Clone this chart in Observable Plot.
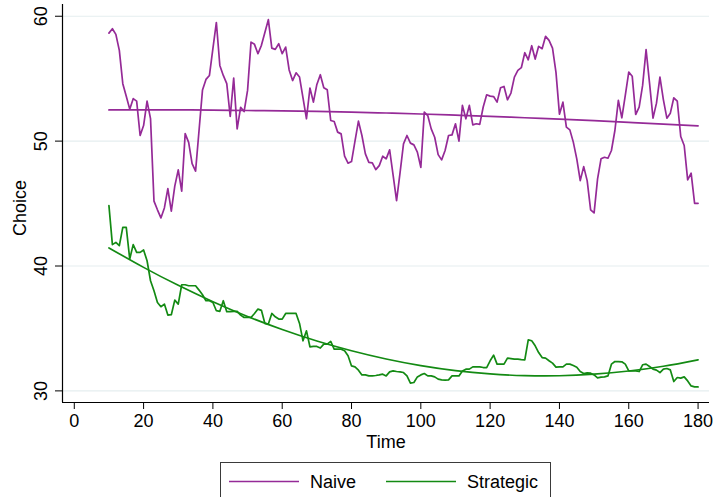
<!DOCTYPE html>
<html>
<head>
<meta charset="utf-8">
<script src="https://cdn.jsdelivr.net/npm/d3@7"></script>
<script src="https://cdn.jsdelivr.net/npm/@observablehq/plot@0.6"></script>
<style>
  html, body { margin: 0; padding: 0; background: #fff; overflow: hidden; }
  #chart { position: relative; width: 713px; height: 497px; overflow: hidden;
           font-family: "Liberation Sans", Arial, Helvetica, sans-serif; }
  #chart > svg { position: absolute; left: 0; top: 0; }
  #legend { position: absolute; left: 220px; top: 462px; width: 331px; height: 44px;
            box-sizing: border-box; border: 1px solid #3a3a3a; background: #fff; }
  #legend svg { position: absolute; left: 0; top: 0; }
</style>
</head>
<body>
<div id="chart"></div>
<script>
// Choice by period, periods 10..180
const time = d3.range(10, 181);

const naive = [
  58.65, 59.0, 58.55, 57.27, 54.6, 53.6, 52.56, 53.4, 53.2, 50.45,
  51.25, 53.2, 51.8, 45.2, 44.5, 43.85, 44.65, 46.2, 44.4, 46.4,
  47.7, 46.0, 50.6, 49.9, 48.2, 47.6, 50.85, 54.1, 54.94, 55.26,
  57.4, 59.5, 56.06, 55.26, 54.6, 51.97, 55.05, 50.98, 52.7, 52.37,
  54.06, 57.93, 57.75, 57.0, 57.67, 58.7, 59.73, 57.45, 57.35, 57.8,
  57.0, 57.53, 55.7, 54.85, 55.47, 55.13, 53.47, 51.79, 54.25, 53.12,
  54.54, 55.32, 54.28, 54.11, 51.65, 51.57, 50.72, 50.58, 48.79, 48.23,
  48.36, 50.0, 51.6, 50.45, 48.98, 48.3, 48.26, 47.72, 48.04, 48.79,
  48.58, 49.3, 47.27, 45.24, 47.45, 49.78, 50.45, 49.84, 49.7, 49.12,
  47.9, 52.32, 52.05, 50.98, 50.31, 48.92, 48.5, 49.25, 50.45, 50.5,
  51.39, 50.0, 52.86, 51.79, 52.86, 51.3, 51.39, 51.34, 52.73, 53.71,
  53.6, 53.57, 53.12, 54.27, 54.38, 53.31, 53.85, 55.13, 55.66, 55.88,
  57.08, 56.51, 57.64, 56.57, 57.59, 57.4, 58.39, 58.07, 57.45, 55.5,
  52.16, 53.12, 51.12, 50.9, 49.92, 48.58, 46.84, 47.96, 46.84, 44.49,
  44.25, 46.97, 48.58, 48.71, 48.63, 49.25, 50.85, 53.26, 51.87, 53.66,
  55.53, 55.2, 52.13, 52.72, 54.46, 57.32, 54.64, 51.84, 53.04, 55.13,
  53.31, 51.84, 52.24, 53.47, 53.2, 50.37, 49.65, 46.89, 47.43, 45.02,
  45.02
];

const strategic = [
  44.84, 41.71, 41.89, 41.63, 43.1, 43.1, 40.56, 41.71, 41.09, 41.09,
  41.28, 40.42, 38.82, 38.02, 37.08, 36.74, 36.95, 36.07, 36.1, 37.27,
  36.95, 38.5, 38.5, 38.42, 38.42, 38.42, 38.07, 37.7, 37.22, 37.22,
  37.08, 36.42, 36.37, 37.22, 36.34, 36.34, 36.37, 36.37, 36.07, 35.88,
  35.88, 35.88, 36.2, 36.55, 36.45, 35.4, 35.35, 36.2, 35.93, 35.75,
  35.75, 36.2, 36.2, 36.2, 36.2, 35.4, 34.01, 34.81, 33.53, 33.56,
  33.56, 33.43, 33.74, 33.74, 33.96, 33.34, 33.34, 33.34, 33.21, 32.81,
  32.0, 31.92, 31.66, 31.28, 31.28, 31.2, 31.2, 31.23, 31.28, 31.34,
  31.2, 31.52, 31.6, 31.55, 31.52, 31.47, 31.2, 30.62, 30.67, 31.12,
  31.28, 31.39, 31.2, 31.2, 31.12, 30.94, 30.88, 30.86, 30.88, 31.2,
  31.2, 31.2, 31.6, 31.74, 31.74, 31.92, 31.92, 31.92, 31.87, 31.87,
  32.41, 32.86, 32.14, 32.14, 32.14, 32.62, 32.59, 32.54, 32.54, 32.51,
  32.49, 34.09, 34.01, 33.61, 33.07, 32.67, 32.62, 32.41, 32.22, 31.9,
  31.92, 31.92, 32.14, 32.14, 32.03, 31.9, 31.55, 31.39, 31.44, 31.42,
  31.28, 31.04, 31.1, 31.12, 31.2, 32.14, 32.35, 32.35, 32.33, 32.14,
  31.6, 31.6, 31.6, 31.55, 32.09, 32.14, 31.95, 31.74, 31.66, 31.47,
  31.74, 31.79, 31.68, 30.75, 31.07, 31.02, 31.12, 30.8, 30.4, 30.32,
  30.32
];

// Quadratic fitted values, sampled every 10 periods
const fitTime = [10, 20, 30, 40, 50, 60, 70, 80, 90, 100, 110, 120, 130, 140, 150, 160, 170, 180];
const naiveFit = [52.5, 52.5, 52.5, 52.48, 52.45, 52.42, 52.38, 52.32, 52.25, 52.17,
                  52.08, 51.98, 51.87, 51.76, 51.64, 51.5, 51.36, 51.22];
const strategicFit = [41.45, 39.89, 38.45, 37.14, 35.96, 34.91, 33.99, 33.21, 32.55, 32.02,
                      31.62, 31.36, 31.22, 31.21, 31.34, 31.59, 31.97, 32.49];

const xTicks = [0, 20, 40, 60, 80, 100, 120, 140, 160, 180];
const yTicks = [30, 40, 50, 60];
const seriesNames = ["Naive", "Strategic"];
const colors = { Naive: "#952a97", Strategic: "#138a13" };

const series = time.map((t, i) => ({ t, naive: naive[i], strategic: strategic[i] }));
const fits = fitTime.map((t, i) => ({ t, naive: naiveFit[i], strategic: strategicFit[i] }));

const xDomain = [-3.4, 183.3];
const yDomain = [29.07, 60.94];
const font = "Liberation Sans, Arial, Helvetica, sans-serif";

const chart = Plot.plot({
  width: 713,
  height: 455,
  marginLeft: 62,
  marginRight: 4,
  marginTop: 4,
  marginBottom: 53,
  style: { fontFamily: font, fontSize: "18px", background: "#fff", color: "#000", overflow: "visible" },
  x: { type: "linear", domain: xDomain, label: null },
  y: { type: "linear", domain: yDomain, label: null },
  marks: [
    Plot.ruleY(yTicks, { stroke: "#e5eeef", strokeWidth: 1.2 }),
    Plot.line(series, { x: "t", y: "naive", stroke: colors.Naive, strokeWidth: 1.7, strokeLinejoin: "round" }),
    Plot.line(series, { x: "t", y: "strategic", stroke: colors.Strategic, strokeWidth: 1.7, strokeLinejoin: "round" }),
    Plot.line(fits, { x: "t", y: "naive", stroke: colors.Naive, strokeWidth: 1.7, curve: "natural" }),
    Plot.line(fits, { x: "t", y: "strategic", stroke: colors.Strategic, strokeWidth: 1.7, curve: "natural" }),
    // axis lines
    Plot.ruleX([xDomain[0]], { stroke: "#000", strokeWidth: 1.2 }),
    Plot.ruleY([yDomain[0]], { stroke: "#000", strokeWidth: 1.2 }),
    // x axis
    Plot.axisX(xTicks, { tickSize: 7, tickPadding: 5, fontSize: 18, stroke: "#000", label: null }),
    Plot.text(["Time"], { frameAnchor: "bottom", dy: 39.5, lineAnchor: "middle", textAnchor: "middle",
                          fontSize: 18, fill: "#000" }),
    // y axis: ticks here, rotated labels drawn as text
    Plot.axisY(yTicks, { tickSize: 7, tickFormat: () => "", stroke: "#000", label: null }),
    Plot.text(yTicks, { y: d => d, frameAnchor: "left", dx: -20.8, rotate: -90,
                        textAnchor: "middle", lineAnchor: "middle",
                        text: d => String(d), fontSize: 18, fill: "#000" }),
    Plot.text(["Choice"], { frameAnchor: "left", dx: -42, dy: 4.5, rotate: -90,
                            textAnchor: "middle", lineAnchor: "middle", fontSize: 18, fill: "#000" })
  ]
});

document.getElementById("chart").appendChild(chart);

// Legend below the plot
const legend = document.createElement("div");
legend.id = "legend";
document.getElementById("chart").appendChild(legend);
const lsvg = d3.select(legend).append("svg").attr("width", 331).attr("height", 44);
const items = [
  { name: seriesNames[0], x1: 8, x2: 78, tx: 89 },
  { name: seriesNames[1], x1: 165, x2: 235, tx: 246 }
];
for (const it of items) {
  lsvg.append("line").attr("x1", it.x1).attr("x2", it.x2).attr("y1", 18.5).attr("y2", 18.5)
    .attr("stroke", colors[it.name]).attr("stroke-width", 1.7);
  lsvg.append("text").attr("x", it.tx).attr("y", 25).attr("font-family", font)
    .attr("font-size", 18).attr("fill", "#000").text(it.name);
}
</script>
</body>
</html>
